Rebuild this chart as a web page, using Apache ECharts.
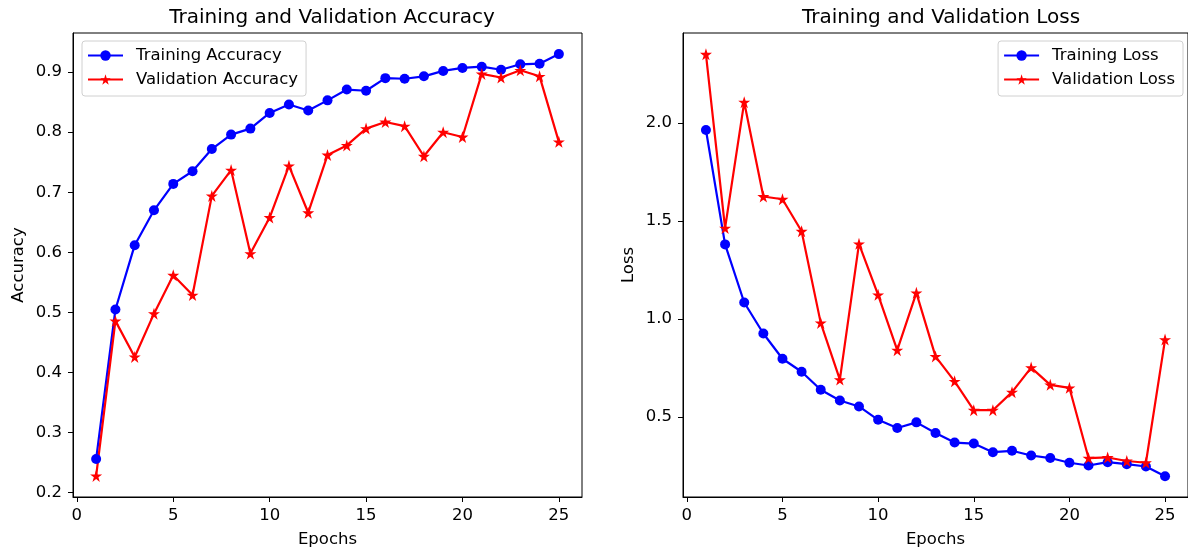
<!DOCTYPE html>
<html>
<head>
<meta charset="utf-8">
<script src="https://cdn.jsdelivr.net/npm/echarts@6/dist/echarts.min.js"></script>
<style>
html,body{margin:0;padding:0;background:#fff;}
#chart{width:1188px;height:554px;}
</style>
</head>
<body>
<div id="chart"></div>
<script>
const epochs = [1,2,3,4,5,6,7,8,9,10,11,12,13,14,15,16,17,18,19,20,21,22,23,24,25];
const trainAcc = [0.256,0.505,0.612,0.670,0.714,0.735,0.772,0.796,0.806,0.832,0.846,0.836,0.853,0.871,0.869,0.890,0.889,0.893,0.902,0.907,0.909,0.904,0.913,0.914,0.930];
const valAcc = [0.228,0.486,0.426,0.498,0.562,0.529,0.694,0.737,0.598,0.658,0.744,0.666,0.762,0.778,0.806,0.817,0.810,0.760,0.800,0.792,0.897,0.891,0.903,0.893,0.784];
const trainLoss = [1.963,1.380,1.084,0.926,0.797,0.731,0.639,0.584,0.554,0.486,0.444,0.473,0.419,0.370,0.365,0.321,0.328,0.304,0.291,0.267,0.253,0.270,0.260,0.248,0.198];
const valLoss = [2.349,1.463,2.105,1.624,1.610,1.447,0.980,0.691,1.383,1.123,0.841,1.133,0.809,0.682,0.535,0.535,0.627,0.752,0.664,0.649,0.291,0.294,0.276,0.267,0.895];
const xTicks = [0,5,10,15,20,25];
const accTicks = [0.2,0.3,0.4,0.5,0.6,0.7,0.8,0.9];
const lossTicks = [0.5,1.0,1.5,2.0];

const FONT = 'DejaVu Sans';
const FS = 16.5;
const STAR = 'path://M100 0 L122.45 69.1 L195.11 69.1 L136.33 111.8 L158.78 180.9 L100 138.2 L41.22 180.9 L63.67 111.8 L4.89 69.1 L77.55 69.1 Z';
const pairs = (ys) => epochs.map((e,i) => [e, ys[i]]);

function xAxis(gi, min, max){
  return {
    type:'value', gridIndex:gi, min:min, max:max,
    name:'Epochs', nameLocation:'middle', nameGap:34,
    nameTextStyle:{fontFamily:FONT, fontSize:FS, color:'#000'},
    axisLine:{show:true, onZero:false, lineStyle:{color:'#000', width:1}},
    axisTick:{show:true, length:5, lineStyle:{color:'#000'}, customValues:xTicks},
    axisLabel:{fontFamily:FONT, fontSize:FS, color:'#000', margin:10, customValues:xTicks},
    splitLine:{show:false}
  };
}
function yAxis(gi, min, max, name, ticks){
  return {
    type:'value', gridIndex:gi, min:min, max:max,
    name:name, nameLocation:'middle', nameGap:46, nameRotate:90,
    nameTextStyle:{fontFamily:FONT, fontSize:FS, color:'#000'},
    axisLine:{show:true, onZero:false, lineStyle:{color:'#000', width:1}},
    axisTick:{show:true, length:5, lineStyle:{color:'#000'}, customValues:ticks},
    axisLabel:{fontFamily:FONT, fontSize:FS, color:'#000', margin:11, customValues:ticks,
      formatter:(v)=>Number(v).toFixed(1)},
    splitLine:{show:false}
  };
}
function series(name, data, gi, color, star){
  return {
    name:name, type:'line', xAxisIndex:gi, yAxisIndex:gi, data:data,
    symbol: star ? STAR : 'circle', symbolSize: star ? 12 : 10,
    showAllSymbol:true,
    lineStyle:{color:color, width:2.2},
    itemStyle:{color:color, borderWidth:0},
    emphasis:{disabled:true},
    animation:false
  };
}
function legend(names, pos){
  return Object.assign({
    orient:'vertical',
    data:names,
    itemWidth:35, itemHeight:13, itemGap:5,
    padding:[5,8,7,5],
    borderColor:'#d0d0d0', borderWidth:1, borderRadius:3,
    backgroundColor:'rgba(255,255,255,0.8)',
    textStyle:{fontFamily:FONT, fontSize:FS, color:'#000', lineHeight:19, padding:[0,0,0,8]}
  }, pos);
}

const chart = echarts.init(document.getElementById('chart'), null, {renderer:'canvas'});
chart.setOption({
  animation:false,
  backgroundColor:'#fff',
  title:[
    {text:'Training and Validation Accuracy', left:327, top:3, textAlign:'center',
     textStyle:{fontFamily:FONT, fontSize:20, fontWeight:'normal', color:'#000'}},
    {text:'Training and Validation Loss', left:936, top:3, textAlign:'center',
     textStyle:{fontFamily:FONT, fontSize:20, fontWeight:'normal', color:'#000'}}
  ],
  grid:[
    {left:73, top:33, width:509, height:464, show:true, borderColor:'#000', borderWidth:1, backgroundColor:'transparent'},
    {left:683, top:33, width:507, height:464, show:true, borderColor:'#000', borderWidth:1, backgroundColor:'transparent'}
  ],
  xAxis:[ xAxis(0,-0.2,26.2), xAxis(1,-0.2,26.2) ],
  yAxis:[ yAxis(0,0.1929,0.9651,'Accuracy',accTicks), yAxis(1,0.0925,2.4575,'Loss',lossTicks) ],
  legend:[
    legend(['Training Accuracy','Validation Accuracy'], {left:82, top:41}),
    legend(['Training Loss','Validation Loss'], {right:5, top:41})
  ],
  series:[
    series('Training Accuracy', pairs(trainAcc), 0, '#0000ff', false),
    series('Validation Accuracy', pairs(valAcc), 0, '#ff0000', true),
    series('Training Loss', pairs(trainLoss), 1, '#0000ff', false),
    series('Validation Loss', pairs(valLoss), 1, '#ff0000', true)
  ]
});
</script>
</body>
</html>
